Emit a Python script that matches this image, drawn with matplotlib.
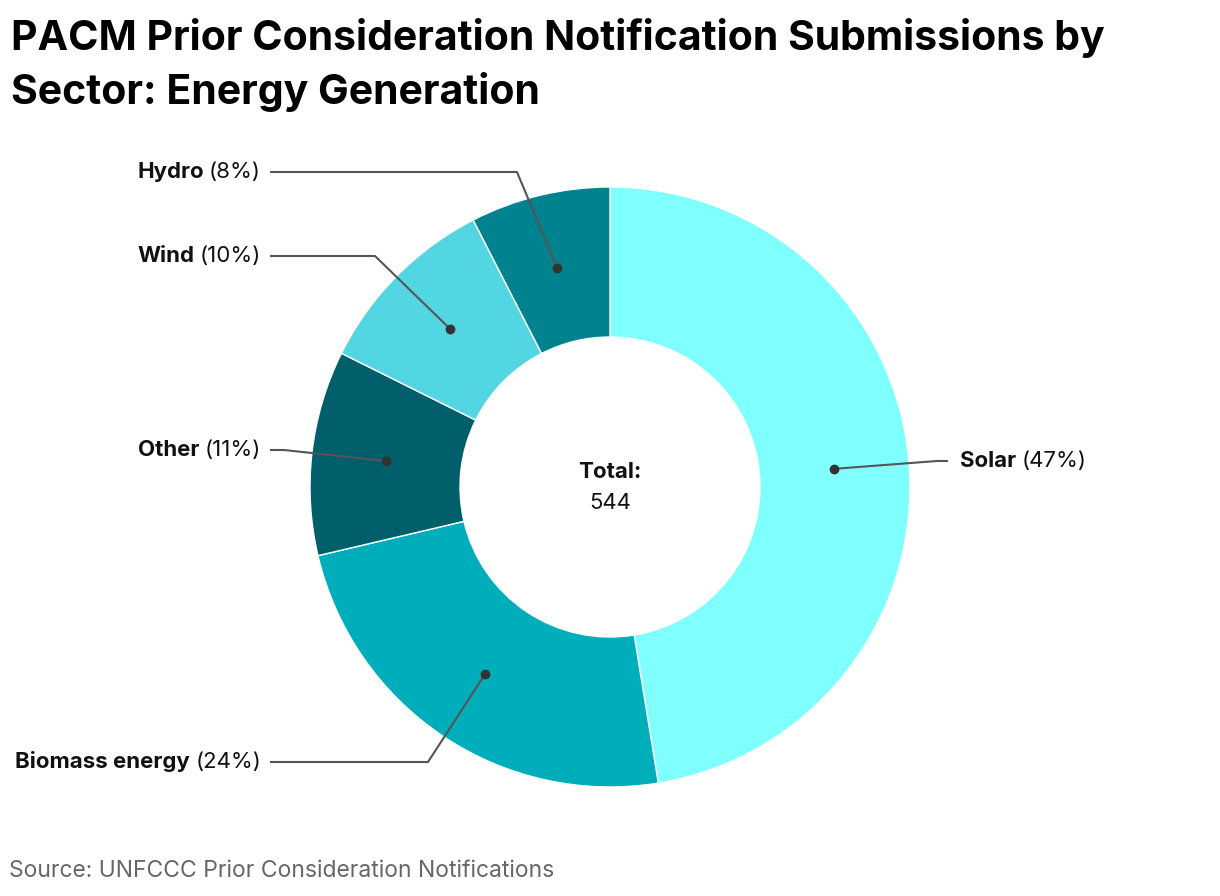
import matplotlib
matplotlib.use('Agg')
import matplotlib.pyplot as plt
import numpy as np

# Data
sectors = ['Solar', 'Biomass energy', 'Other', 'Wind', 'Hydro']
counts = [258, 130, 60, 55, 41]
colors = ['#80FFFF', '#00AEBB', '#005F6B', '#52D6E2', '#00838F']
total = sum(counts)

W, H = 1220, 896
plt.rcParams['font.family'] = ['Inter', 'DejaVu Sans']

fig = plt.figure(figsize=(W / 100, H / 100), dpi=100)
ax = fig.add_axes([0, 0, 1, 1])

cx, cy, R = 610, H - 487, 300
wedges, _ = ax.pie(counts, colors=colors, startangle=90, counterclock=False,
                   center=(cx, cy), radius=R, frame=True,
                   wedgeprops=dict(width=R * 0.5, edgecolor='white', linewidth=1))
ax.set_xlim(0, W)
ax.set_ylim(0, H)
ax.axis('off')

# label anchors (image pixel coords): x, y, side, elbow x
label_layout = {
    'Solar': (960, 461, 'left', 937),
    'Biomass energy': (261, 762, 'right', 428),
    'Other': (261, 450, 'right', 284),
    'Wind': (261, 256, 'right', 375),
    'Hydro': (261, 172, 'right', 517),
}

fig.canvas.draw()
renderer = fig.canvas.get_renderer()
fs = 16

for w, name, c in zip(wedges, sectors, counts):
    mid = np.deg2rad((w.theta1 + w.theta2) / 2)
    r = R * 0.75
    dx, dy = cx + r * np.cos(mid), cy + r * np.sin(mid)
    lx, ly, side, ex = label_layout[name]
    ly = H - ly
    if side == 'right':
        xs = [dx, ex, lx + 9]
    else:
        xs = [dx, ex, lx - 12]
    ys = [dy, ly, ly]
    ax.plot(xs, ys, color='#555555', lw=1.5, solid_capstyle='butt', zorder=3)
    ax.plot(dx, dy, 'o', color='#333333', markersize=6, zorder=4)

    pct = f'({round(c / total * 100)}%)'
    if side == 'right':
        t2 = ax.text(lx, ly, pct, ha='right', va='center', fontsize=fs, color='#111111')
        wpx = t2.get_window_extent(renderer).width
        ax.text(lx - wpx - 5, ly, name, ha='right', va='center', fontsize=fs,
                fontweight='bold', color='#111111')
    else:
        t1 = ax.text(lx, ly, name, ha='left', va='center', fontsize=fs,
                     fontweight='bold', color='#111111')
        wpx = t1.get_window_extent(renderer).width
        ax.text(lx + wpx + 5, ly, pct, ha='left', va='center', fontsize=fs, color='#111111')

# center total
ax.text(cx, H - 472, 'Total:', ha='center', va='center', fontsize=16,
        fontweight='bold', color='#111111')
ax.text(cx, H - 503, f'{total}', ha='center', va='center', fontsize=16, color='#111111')

# title and source
fig.text(11 / W, 1 - 38 / H, 'PACM Prior Consideration Notification Submissions by',
         ha='left', va='center', fontsize=29.5, fontweight='bold', color='#000000')
fig.text(11 / W, 1 - 92 / H, 'Sector: Energy Generation',
         ha='left', va='center', fontsize=29.5, fontweight='bold', color='#000000')
fig.text(9 / W, 1 - 871 / H, 'Source: UNFCCC Prior Consideration Notifications',
         ha='left', va='center', fontsize=16.5, color='#666666')

fig.savefig('out.png', dpi=100)
